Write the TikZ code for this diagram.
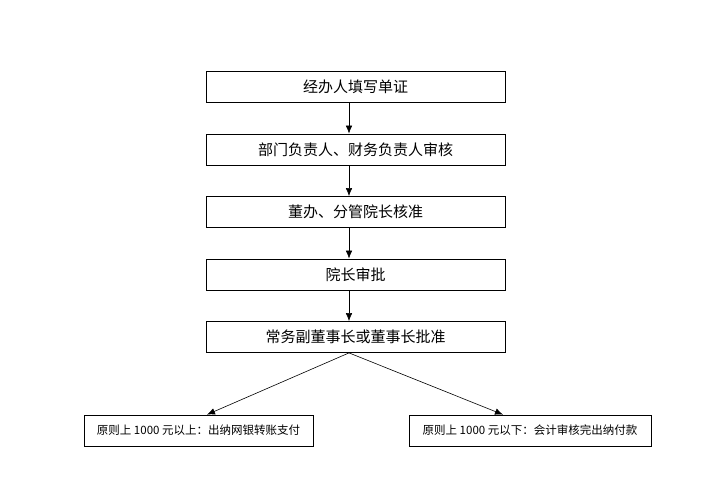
\documentclass[tikz,border=0pt]{standalone}
\usepackage{fontspec}
\setmainfont{Noto Sans CJK SC}
\usetikzlibrary{positioning,arrows.meta}
\tikzset{>={Latex[length=8pt,width=6.5pt]}}
\tikzstyle{stepbox}=[draw=black,thick,minimum width=299pt,minimum height=31pt,inner sep=0pt,font=\fontsize{15}{17}\selectfont]
\tikzstyle{endbox}=[draw=black,thick,minimum height=31pt,inner sep=0pt,font=\fontsize{11.5}{13}\selectfont]
\tikzstyle{flow}=[->,semithick]

\begin{document}
\begin{tikzpicture}[x=1pt,y=-1pt,node distance=30.7pt]
		\useasboundingbox (0,0) rectangle (704,493);
		\node[stepbox] (fill) at (355.5,87) {经办人填写单证};
		\node[stepbox] (dept) [below=of fill] {部门负责人、财务负责人审核};
		\node[stepbox] (office) [below=of dept] {董办、分管院长核准};
		\node[stepbox] (dean) [below=of office] {院长审批};
		\node[stepbox] (chair) [below=of dean] {常务副董事长或董事长批准};
		\node[endbox,minimum width=229pt] (above) at (198.5,430.5) {原则上 1000 元以上：出纳网银转账支付};
		\node[endbox,minimum width=242pt] (below) at (530,430.5) {原则上 1000 元以下：会计审核完出纳付款};
		
		\foreach \a/\b in {fill/dept,dept/office,office/dean,dean/chair}
			\draw[flow] ([xshift=-6.5pt]\a.south) -- ([xshift=-6.5pt]\b.north);
		\draw[flow] ([xshift=-6.5pt]chair.south) -- ([xshift=8.5pt]above.north);
		\draw[flow] ([xshift=-6.5pt]chair.south) -- ([xshift=-27pt]below.north);
	\end{tikzpicture}
\end{document}
